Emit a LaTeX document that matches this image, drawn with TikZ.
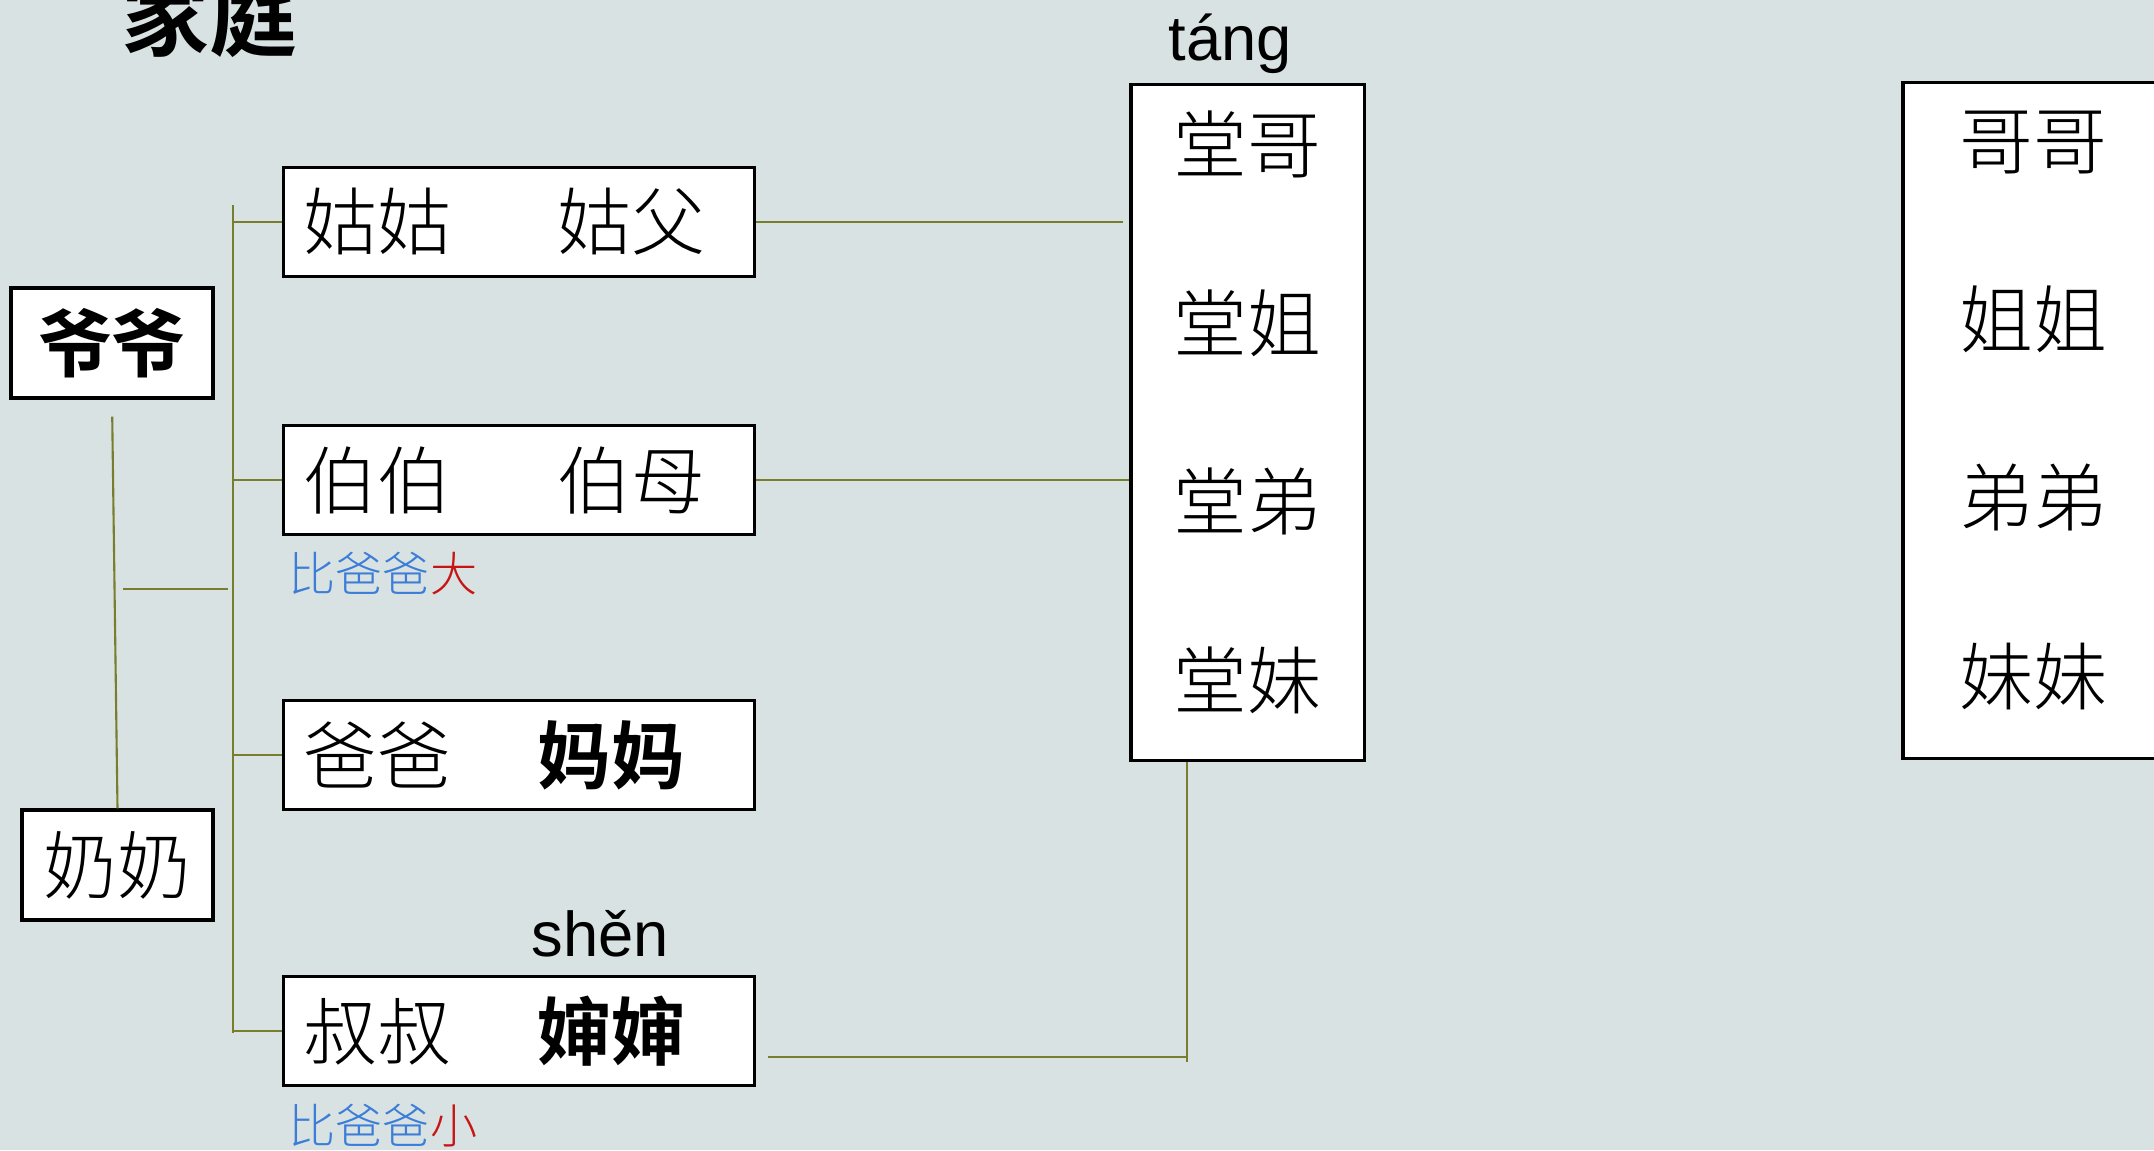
\documentclass[tikz,border=0pt]{standalone}
\usepackage{fontspec}
\newfontfamily\cjk{Noto Sans CJK SC}[UprightFont=* Light,BoldFont=* Bold]
\newfontfamily\pinyin{Liberation Sans}
\usetikzlibrary{positioning}
\definecolor{slate}{RGB}{217,226,226}
\definecolor{kinline}{RGB}{120,126,46}
\definecolor{kinblue}{RGB}{60,125,215}
\definecolor{kinred}{RGB}{200,20,20}
\newcommand{\boxfont}{\cjk\fontsize{21}{25}\selectfont}
\newcommand{\notefont}{\cjk\fontsize{13.4}{16}\selectfont}

\begin{document}
\begin{tikzpicture}[x=0.01cm,y=-0.01cm,
  member/.style={draw=black,line width=0.9pt,fill=white,inner sep=0pt,font=\boxfont},
  couple/.style={member,anchor=west,minimum height=1.09cm,text width=4.31cm,inner xsep=0.2cm,align=left},
  column/.style={member,minimum height=6.75cm},
  names/.style={inner sep=0pt,align=center,font=\cjk\fontsize{21}{50.8}\selectfont},
  kin/.style={draw=kinline,line width=0.6pt},
  note/.style={anchor=west,inner sep=0pt,text=kinblue,font=\notefont},
  sound/.style={inner sep=0pt,font=\pinyin\fontsize{18}{20}\selectfont}]
  \fill[slate]
    (0,0)
    rectangle
    (2154,1150);
  \useasboundingbox
    (0,0)
    rectangle
    (2154,1150);
  \coordinate (bustop) at (233,205);
  \coordinate (busbot) at (233,1033);
  \coordinate (wed) at (114,589);
  \coordinate (join) at (1187,1057);
  \node[anchor=base west,inner sep=0pt,font=\cjk\bfseries\fontsize{25}{30}\selectfont]
    (title) at (121,49) {家庭};
  \node[member,minimum width=2.02cm,minimum height=1.1cm,font=\boxfont\bfseries]
    (yeye) at (112,343) {爷爷};
  \node[member,minimum width=1.91cm,minimum height=1.1cm]
    (nainai) at (117.5,865) {奶奶};
  \node[couple]
    (gugu) at (282,222) {姑姑\hspace{1.06cm}姑父};
  \node[couple]
    (bobo) at (282,480) {伯伯\hspace{1.06cm}伯母};
  \node[couple]
    (baba) at (282,755) {爸爸\hspace{0.86cm}{\bfseries 妈妈}};
  \node[couple]
    (shushu) at (282,1031) {叔叔\hspace{0.86cm}{\bfseries 婶婶}};
  \node[note]
    (bignote) at (288,574) {比爸爸\textcolor{kinred}{大}};
  \node[note]
    (smallnote) at (288,1126) {比爸爸\textcolor{kinred}{小}};
  \node[sound]
    (shenpy) at (600,934) {shěn};
  \node[column,minimum width=2.33cm]
    (tang) at (1247.5,422.5) {};
  \node[names]
    (tangnames) at ([yshift=0.1cm]tang.center) {堂哥\\堂姐\\堂弟\\堂妹};
  \node[sound,above=0.09cm of tang,xshift=-0.17cm]
    (tangpy) {táng};
  \node[column,minimum width=2.6cm]
    (sibs) at (2033,420.5) {};
  \node[names]
    (sibnames) at ([yshift=0.1cm]sibs.center) {哥哥\\姐姐\\弟弟\\妹妹};
  \draw[kin]
    (bustop)
    --
    (busbot);
  \foreach \m in {gugu,bobo,baba,shushu}
    \draw[kin]
      (\m.west)
      --
      (\m.west -| bustop);
  \draw[kin,shorten <=0.17cm]
    (yeye.south)
    --
    (nainai.north);
  \draw[kin,shorten <=0.09cm,shorten >=0.05cm]
    (wed)
    --
    (wed -| bustop);
  \draw[kin,shorten >=0.06cm]
    (gugu.east)
    --
    (gugu.east -| tang.west);
  \draw[kin]
    (bobo.east)
    --
    (bobo.east -| tang.west);
  \draw[kin,shorten <=0.12cm]
    (join -| shushu.east)
    --
    (join);
  \draw[kin,shorten >=-0.05cm]
    (join |- tang.south)
    --
    (join);
\end{tikzpicture}
\end{document}
